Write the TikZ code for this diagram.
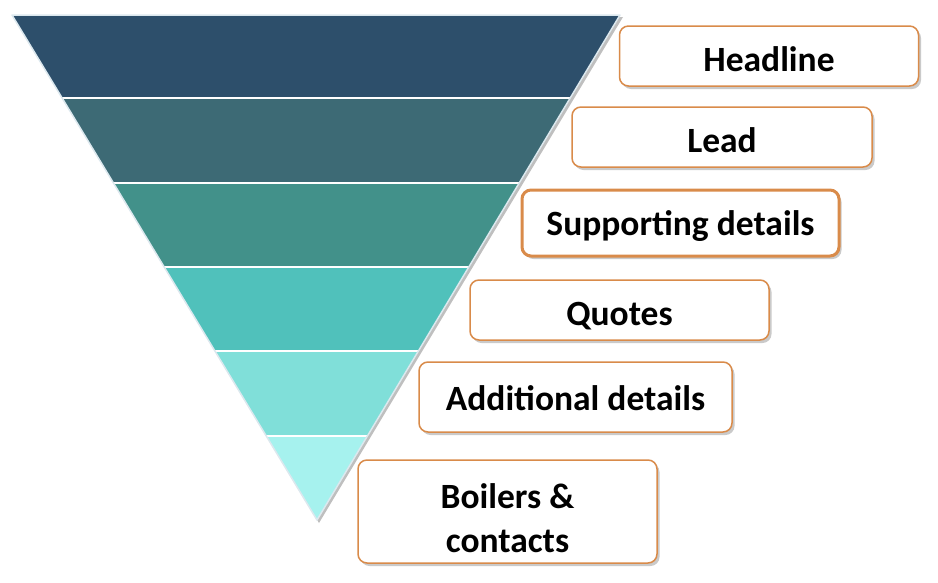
\documentclass[tikz,border=0pt]{standalone}
\usepackage{fontspec}
\setmainfont{Carlito}
\usetikzlibrary{shadows}
\definecolor{bandA}{HTML}{2D4F6B}
\definecolor{bandB}{HTML}{3D6A75}
\definecolor{bandC}{HTML}{42918A}
\definecolor{bandD}{HTML}{50C1BB}
\definecolor{bandE}{HTML}{80DFD9}
\definecolor{bandF}{HTML}{A6F2EE}
\definecolor{boxline}{HTML}{D98B4A}
\definecolor{triedge}{HTML}{DCE8EE}
\newcommand\boxtxt[2]{\raisebox{#1}[0pt][0pt]{#2}}
\tikzset{
  label box/.style={draw=boxline, line width=1.5pt, fill=white, rounded corners=9pt,
    align=center, inner sep=0pt,
    font=\fontsize{35.5}{44}\selectfont\bfseries,
    drop shadow={shadow xshift=2.5pt, shadow yshift=-3pt, opacity=0.35, fill=black!60}},
  key box/.style={label box, line width=3pt},
  band line/.style={draw=white, line width=2pt}
}
\begin{document}
\begin{tikzpicture}[x=1pt,y=-1pt]
\useasboundingbox (0,0) rectangle (938,582);
% triangle shadow and outline
\fill[black!25] (14,17) -- (623,17) -- (319,523) -- cycle;
\begin{scope}
\clip (12,15) -- (620,15) -- (317,520) -- cycle;
\fill[bandA] (0,0) rectangle (938,98);
\fill[bandB] (0,98) rectangle (938,183);
\fill[bandC] (0,183) rectangle (938,267);
\fill[bandD] (0,267) rectangle (938,351);
\fill[bandE] (0,351) rectangle (938,436);
\fill[bandF] (0,436) rectangle (938,582);
\foreach \yy in {98,183,267,351,436} \draw[band line] (0,\yy) -- (938,\yy);
\end{scope}
\draw[triedge, line width=1.5pt, line join=round] (12,15) -- (620,15) -- (317,520) -- cycle;
% boxes
\node[label box, minimum width=299pt, minimum height=60pt] (head) at (769,56) {\boxtxt{-15pt}{Headline}};
\node[label box, minimum width=300pt, minimum height=60pt] (lead) at (722,137) {\boxtxt{-15pt}{Lead}};
\node[key box, minimum width=317pt, minimum height=66pt] (supp) at (680.5,223) {\boxtxt{-12pt}{Supporting details}};
\node[label box, minimum width=299pt, minimum height=60pt] (quot) at (619.5,310) {\boxtxt{-15pt}{Quotes}};
\node[label box, minimum width=313pt, minimum height=70pt] (addl) at (575.5,397) {\boxtxt{-13pt}{Additional details}};
\node[label box, minimum width=299pt, minimum height=103pt] (boil) at (507.5,511.5) {\boxtxt{3.5pt}{\begin{tabular}[t]{@{}c@{}}Boilers \&\\contacts\end{tabular}}};
\end{tikzpicture}
\end{document}
